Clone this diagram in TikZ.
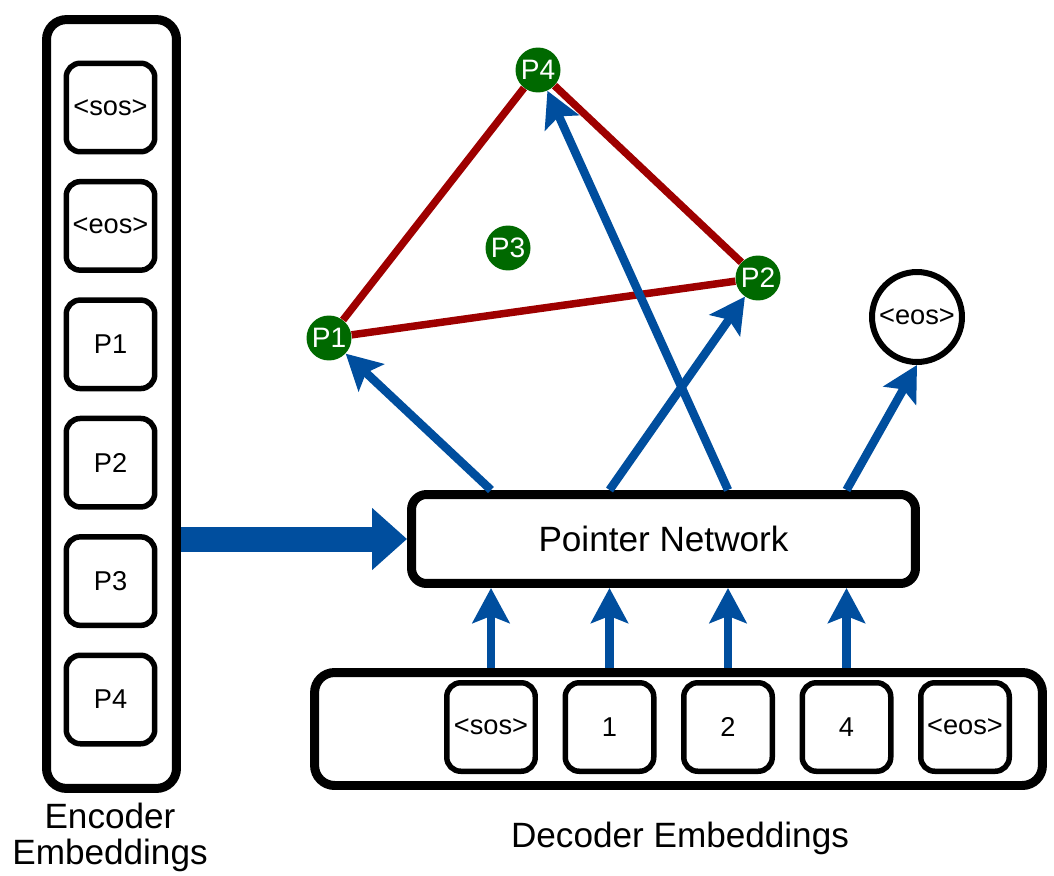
\documentclass[tikz,border=0pt]{standalone}
\usepackage{fontspec}
\setmainfont{Liberation Sans}
\usepackage{xcolor}
\usepackage{tikz}
\usetikzlibrary{arrows.meta}
\usetikzlibrary{calc}

\definecolor{ptrblue}{RGB}{0,78,158}
\definecolor{tourred}{RGB}{158,0,0}
\definecolor{citygreen}{RGB}{0,105,0}

\begin{document}
\begin{tikzpicture}[
  x=0.02cm, y=-0.02cm,
  holder/.style={
    rectangle,
    rounded corners=0.4cm,
    draw=black,
    line width=0.18cm,
    fill=white,
    inner sep=0pt
  },
  token/.style={
    rectangle,
    rounded corners=0.28cm,
    draw=black,
    line width=0.11cm,
    fill=white,
    minimum width=1.77cm,
    minimum height=1.77cm,
    inner sep=0pt,
    font=\fontsize{15.5}{18}\selectfont
  },
  city/.style={
    circle,
    fill=citygreen,
    minimum size=0.9cm,
    inner sep=0pt,
    text=white,
    font=\fontsize{16}{18}\selectfont
  },
  label/.style={font=\fontsize{20}{20.5}\selectfont, align=center},
  tour/.style={tourred, line width=0.15cm},
  arr/.style={ptrblue, line width=0.17cm, -{Stealth[length=0.7cm, width=0.74cm, inset=0.14cm]}},
  bigarr/.style={ptrblue, line width=0.5cm, -{Triangle[length=0.7cm, width=1.2cm]}}
]
\useasboundingbox (0,0) rectangle (1054,875);

% ===================== Encoder =====================
\node[holder, minimum width=2.6cm, minimum height=15.38cm] (enc) at (111.5, 404) {};
\foreach \lab [count=\i] in {<sos>, <eos>, P1, P2, P3, P4}
  \node[token] (e\i) at (110.5, {107.5+118.4*(\i-1)}) {\lab};
\node[label] (enclab) at (110, 837) {Encoder\\Embeddings};

% ===================== Decoder =====================
\node[holder, minimum width=14.56cm, minimum height=2.26cm] (dec) at (678.5, 729) {};
\foreach \lab [count=\i] in {<sos>, 1, 2, 4, <eos>}
  \node[token] (d\i) at ({491+118.5*(\i-1)}, 727) {\lab};
\node[label] (declab) at (680, 838) {Decoder Embeddings};

% ===================== Pointer Network =====================
\node[holder, rounded corners=0.3cm, minimum width=10.08cm, minimum height=1.78cm,
  font=\fontsize{20}{24}\selectfont] (ptr) at (663.5, 539) {Pointer Network};

% ===================== Output tour =====================
\node[city] (p1) at (329, 338) {P1};
\node[city] (p2) at (758, 278) {P2};
\node[city] (p3) at (508, 248) {P3};
\node[city] (p4) at (538, 70) {P4};
\node[circle, draw=black, line width=0.12cm, fill=white, minimum size=1.8cm, inner sep=0pt,
  font=\fontsize{15.5}{18}\selectfont] (eosout) at (917, 317) {<eos>};

\draw[tour] (p1) -- (p4);
\draw[tour] (p4) -- (p2);
\draw[tour] (p1) -- (p2);

% ===================== Arrows =====================
\draw[bigarr] (enc.east |- ptr.west) -- (ptr.west);
\foreach \i in {1,...,4}
  \draw[arr] (d\i |- dec.north) -- (d\i |- ptr.south);
\draw[arr] (d1 |- ptr.north) -- (p1);
\draw[arr] (d2 |- ptr.north) -- (p2);
\draw[arr] (d3 |- ptr.north) -- (p4);
\draw[arr] (d4 |- ptr.north) -- (eosout.south);

\end{tikzpicture}
\end{document}
